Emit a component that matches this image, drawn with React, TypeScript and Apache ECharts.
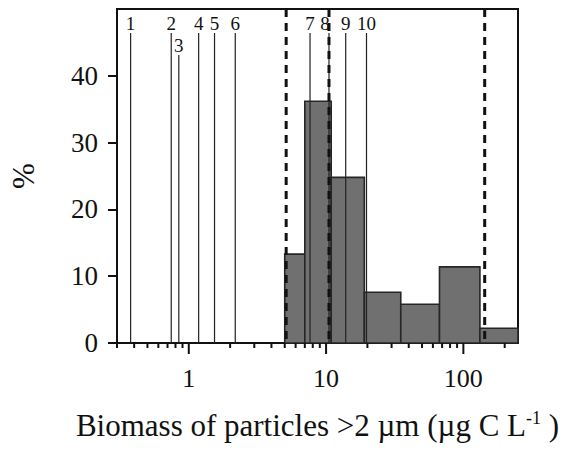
import React, { useEffect, useRef } from "react";
import * as echarts from "echarts";

// Histogram bins (µg C L-1) and percentages
const binStart = [5, 7, 10.9, 19, 35, 67, 132];
const binEnd = [7, 10.9, 19, 35, 67, 132, 250];
const binPct = [13.3, 36.2, 24.8, 7.6, 5.8, 11.4, 2.2];

// Numbered reference lines
const markerLabels = ["1", "2", "3", "4", "5", "6", "7", "8", "9", "10"];
const markerX = [0.377, 0.745, 0.846, 1.18, 1.54, 2.18, 7.64, 10.5, 13.9, 19.7];

// Dashed class boundaries
const dashedX = [5.12, 10.5, 143];

// Axis ticks
const majorTicks = [1, 10, 100];
const minorTicks = [0.3, 0.4, 0.5, 0.6, 0.7, 0.8, 0.9, 2, 3, 4, 5, 6, 7, 8, 9, 20, 30, 40, 50, 60, 70, 80, 90, 200];
const yTicks = [0, 10, 20, 30, 40];

const X_MIN = 0.3;
const X_MAX = 250;
const Y_MAX = 50;

const SERIF = "Liberation Serif";
const INK = "#111111";

export default function App() {
  const ref = useRef<HTMLDivElement>(null);

  useEffect(() => {
    if (!ref.current) return;
    const chart = echarts.init(ref.current, undefined, { renderer: "svg" });

    const option: any = {
      animation: false,
      textStyle: { fontFamily: SERIF },
      grid: {
        left: 116,
        right: 48,
        top: 9,
        bottom: 107,
        show: true,
        borderColor: INK,
        borderWidth: 2,
        backgroundColor: "transparent",
      },
      xAxis: {
        type: "log",
        logBase: 10,
        min: X_MIN,
        max: X_MAX,
        axisLine: { show: true, lineStyle: { color: INK, width: 2 } },
        axisTick: { show: false },
        splitLine: { show: false },
        minorTick: { show: false },
        axisLabel: {
          margin: 22,
          fontFamily: SERIF,
          fontSize: 26,
          color: INK,
          formatter: (v: number) => {
            const l = Math.log10(v);
            return Math.abs(l - Math.round(l)) < 1e-6 && v >= 1 ? String(Math.round(v)) : "";
          },
        },
        name: "Biomass of particles >2 µm (µg C L{sup|-1} )",
        nameLocation: "middle",
        nameGap: 66,
        nameTextStyle: {
          fontFamily: SERIF,
          fontSize: 31,
          color: INK,
          rich: {
            sup: {
              fontFamily: SERIF,
              fontSize: 18,
              color: INK,
              verticalAlign: "top",
              padding: [0, 0, 14, 0],
            },
          },
        },
      },
      yAxis: {
        type: "value",
        min: 0,
        max: Y_MAX,
        interval: 10,
        axisLine: { show: true, lineStyle: { color: INK, width: 2 } },
        axisTick: { show: true, inside: false, length: 9, lineStyle: { color: INK, width: 2 }, customValues: yTicks },
        splitLine: { show: false },
        axisLabel: {
          margin: 19,
          fontFamily: SERIF,
          fontSize: 27,
          color: INK,
          customValues: yTicks,
        },
        name: "%",
        nameLocation: "middle",
        nameRotate: 90,
        nameGap: 78,
        nameTextStyle: { fontFamily: SERIF, fontSize: 31, color: INK },
      },
      series: [
        {
          type: "custom",
          name: "bars",
          data: binStart.map((s, i) => [s, binEnd[i], binPct[i]]),
          encode: { x: [0, 1], y: 2 },
          renderItem: (params: any, api: any) => {
            const p0 = api.coord([api.value(0), api.value(2)]);
            const p1 = api.coord([api.value(1), 0]);
            return {
              type: "rect",
              shape: { x: p0[0], y: p0[1], width: p1[0] - p0[0], height: p1[1] - p0[1] },
              style: { fill: "#707070", stroke: "#262626", lineWidth: 1.6 },
            };
          },
        },
        {
          type: "custom",
          name: "markers",
          data: markerX.map((x, i) => [x, i]),
          encode: { x: 0 },
          renderItem: (params: any, api: any) => {
            const idx = api.value(1);
            const lab = markerLabels[idx];
            const top = api.coord([api.value(0), Y_MAX]);
            const bot = api.coord([api.value(0), 0]);
            const low = lab === "3";
            const dx = lab === "8" ? -4 : 0;
            return {
              type: "group",
              children: [
                {
                  type: "line",
                  shape: { x1: top[0], y1: top[1] + (low ? 46 : 24), x2: bot[0], y2: bot[1] },
                  style: { stroke: "#222222", lineWidth: 1.2 },
                },
                {
                  type: "text",
                  x: top[0] + dx,
                  y: top[1] + (low ? 36.5 : 14),
                  style: {
                    text: lab,
                    fontFamily: SERIF,
                    fontSize: 19,
                    fill: INK,
                    align: "center",
                    verticalAlign: "middle",
                  },
                },
              ],
            };
          },
        },
        {
          type: "custom",
          name: "dashed",
          data: dashedX.map((x) => [x]),
          encode: { x: 0 },
          renderItem: (params: any, api: any) => {
            const top = api.coord([api.value(0), Y_MAX]);
            const bot = api.coord([api.value(0), 0]);
            return {
              type: "line",
              shape: { x1: top[0], y1: top[1], x2: bot[0], y2: bot[1] },
              style: { stroke: INK, lineWidth: 3, lineDash: [8, 6] },
            };
          },
        },
        {
          type: "custom",
          name: "xticks",
          clip: false,
          data: [...majorTicks.map((v) => [v, 1]), ...minorTicks.map((v) => [v, 0])],
          encode: { x: 0 },
          renderItem: (params: any, api: any) => {
            const p = api.coord([api.value(0), 0]);
            const len = api.value(1) ? 11 : 5;
            return {
              type: "line",
              shape: { x1: p[0], y1: p[1], x2: p[0], y2: p[1] + len },
              style: { stroke: INK, lineWidth: 2 },
            };
          },
        },
      ],
    };

    chart.setOption(option);
    return () => chart.dispose();
  }, []);

  return (
    <div
      ref={ref}
      style={{ position: "fixed", left: 0, top: 0, width: 566, height: 450, background: "#fff" }}
    />
  );
}
